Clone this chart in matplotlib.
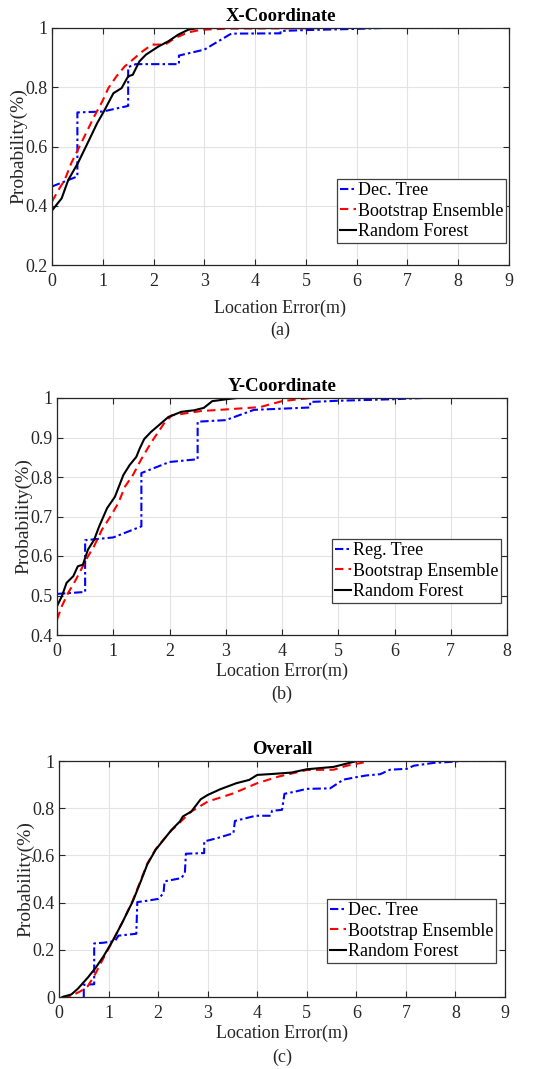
import matplotlib
matplotlib.use("Agg")
import matplotlib.pyplot as plt

plt.rcParams['font.family'] = ['Liberation Serif', 'DejaVu Serif']
plt.rcParams['mathtext.fontset'] = 'stix'

# ---------------- Panel (a): X-Coordinate ----------------
a_tree_x = [0, 0.5, 0.5, 1.0, 1.5, 1.5, 1.65, 2.5, 2.5, 3.0, 3.53, 4.5, 4.5, 5.0, 6.0, 6.5, 8.5]
a_tree_y = [0.465, 0.499, 0.715, 0.718, 0.737, 0.868, 0.878, 0.878, 0.907, 0.927, 0.981, 0.982, 0.99, 0.993, 0.997, 1.0, 1.0]
a_boot_x = [0, 0.13, 0.25, 0.38, 0.51, 0.67, 0.83, 0.99, 1.11, 1.27, 1.43, 1.59, 1.78, 1.97, 2.23, 2.42, 2.68, 2.93, 3.5, 5.6]
a_boot_y = [0.414, 0.454, 0.487, 0.544, 0.589, 0.645, 0.701, 0.752, 0.797, 0.837, 0.870, 0.893, 0.921, 0.944, 0.944, 0.966, 0.985, 0.994, 0.998, 1.0]
a_rf_x = [0, 0.19, 0.32, 0.51, 0.70, 0.89, 1.02, 1.21, 1.37, 1.50, 1.59, 1.72, 1.85, 2.10, 2.29, 2.48, 2.68, 2.87, 5.1]
a_rf_y = [0.384, 0.425, 0.487, 0.544, 0.611, 0.679, 0.718, 0.780, 0.797, 0.837, 0.842, 0.887, 0.910, 0.938, 0.955, 0.977, 0.994, 1.0, 1.0]

# ---------------- Panel (b): Y-Coordinate ----------------
b_tree_x = [0, 0.5, 0.5, 1.0, 1.5, 1.5, 2.0, 2.5, 2.5, 3.0, 3.5, 4.5, 4.5, 5.0, 6.0, 6.5]
b_tree_y = [0.504, 0.509, 0.640, 0.647, 0.675, 0.810, 0.838, 0.845, 0.940, 0.944, 0.970, 0.976, 0.990, 0.993, 0.997, 1.0]
b_boot_x = [0, 0.086, 0.2, 0.32, 0.43, 0.55, 0.66, 0.80, 0.95, 1.09, 1.21, 1.35, 1.49, 1.61, 1.72, 1.90, 2.04, 2.33, 2.56, 3.0, 3.61, 4.0, 4.5]
b_boot_y = [0.439, 0.473, 0.507, 0.536, 0.566, 0.599, 0.625, 0.667, 0.700, 0.734, 0.776, 0.805, 0.843, 0.872, 0.897, 0.935, 0.956, 0.962, 0.967, 0.971, 0.977, 0.992, 1.0]
b_rf_x = [0, 0.086, 0.17, 0.29, 0.37, 0.46, 0.55, 0.66, 0.75, 0.89, 1.03, 1.18, 1.29, 1.41, 1.47, 1.55, 1.67, 1.81, 1.98, 2.21, 2.44, 2.61, 2.76, 3.02, 3.2]
b_rf_y = [0.473, 0.498, 0.532, 0.549, 0.574, 0.578, 0.616, 0.641, 0.675, 0.721, 0.750, 0.805, 0.830, 0.851, 0.872, 0.896, 0.914, 0.931, 0.952, 0.965, 0.969, 0.975, 0.992, 0.997, 1.0]

# ---------------- Panel (c): Overall ----------------
c_tree_x = [0.5, 0.5, 0.71, 0.71, 0.90, 1.13, 1.2, 1.56, 1.58, 1.78, 2.01, 2.11, 2.13, 2.47, 2.54, 2.56, 2.93, 2.93, 3.19, 3.52, 3.55, 3.78, 3.97, 4.27, 4.3, 4.5, 4.55, 4.76, 5.0, 5.47, 5.74, 6.01, 6.21, 6.48, 6.68, 7.02, 7.16, 7.56, 7.96, 8.1, 9.0]
c_tree_y = [0.0, 0.052, 0.054, 0.227, 0.230, 0.237, 0.260, 0.268, 0.402, 0.408, 0.416, 0.441, 0.490, 0.504, 0.525, 0.607, 0.610, 0.659, 0.673, 0.694, 0.746, 0.758, 0.768, 0.768, 0.789, 0.793, 0.861, 0.870, 0.882, 0.884, 0.921, 0.932, 0.939, 0.944, 0.963, 0.967, 0.980, 0.992, 0.997, 1.0, 1.0]
c_boot_x = [0.07, 0.25, 0.44, 0.58, 0.71, 0.90, 1.10, 1.29, 1.49, 1.65, 1.78, 1.95, 2.11, 2.27, 2.44, 2.67, 3.0, 3.52, 4.0, 4.43, 5.0, 5.54, 5.81, 6.15]
c_boot_y = [0.0, 0.005, 0.025, 0.046, 0.089, 0.166, 0.244, 0.321, 0.410, 0.495, 0.565, 0.626, 0.667, 0.706, 0.740, 0.786, 0.828, 0.863, 0.906, 0.934, 0.962, 0.963, 0.980, 0.994]
c_rf_x = [0.07, 0.25, 0.38, 0.58, 0.74, 0.90, 1.10, 1.29, 1.49, 1.65, 1.78, 1.95, 2.11, 2.27, 2.44, 2.50, 2.67, 2.86, 3.0, 3.25, 3.58, 3.84, 4.0, 4.3, 4.69, 5.0, 5.54, 6.01]
c_rf_y = [0.0, 0.011, 0.035, 0.082, 0.124, 0.173, 0.244, 0.321, 0.406, 0.490, 0.561, 0.624, 0.666, 0.708, 0.744, 0.765, 0.786, 0.838, 0.856, 0.880, 0.906, 0.920, 0.941, 0.945, 0.951, 0.965, 0.975, 1.0]

W, H = 538, 1069
fig = plt.figure(figsize=(W / 100, H / 100), dpi=100)

def px_axes(l, r, t, b):
    return fig.add_axes([l / W, 1 - b / H, (r - l) / W, (b - t) / H])

panels = [
    dict(box=(52, 509, 28, 265), title='X-Coordinate', xlim=(0, 9), ylim=(0.2, 1),
         yticks=[0.2, 0.4, 0.6, 0.8, 1.0], ylabels=['0.2', '0.4', '0.6', '0.8', '1'],
         data=(a_tree_x, a_tree_y, a_boot_x, a_boot_y, a_rf_x, a_rf_y),
         names=['Dec. Tree', 'Bootstrap Ensemble', 'Random Forest'],
         leg=(0.993, 0.093), cap='(a)', capy=330, labelpad=7),
    dict(box=(57, 507, 398, 635), title='Y-Coordinate', xlim=(0, 8), ylim=(0.4, 1),
         yticks=[0.4, 0.5, 0.6, 0.7, 0.8, 0.9, 1.0], ylabels=['0.4', '0.5', '0.6', '0.7', '0.8', '0.9', '1'],
         data=(b_tree_x, b_tree_y, b_boot_x, b_boot_y, b_rf_x, b_rf_y),
         names=['Reg. Tree', 'Bootstrap Ensemble', 'Random Forest'],
         leg=(0.987, 0.135), cap='(b)', capy=694, labelpad=2),
    dict(box=(59, 505, 761, 997), title='Overall', xlim=(0, 9), ylim=(0, 1),
         yticks=[0, 0.2, 0.4, 0.6, 0.8, 1.0], ylabels=['0', '0.2', '0.4', '0.6', '0.8', '1'],
         data=(c_tree_x, c_tree_y, c_boot_x, c_boot_y, c_rf_x, c_rf_y),
         names=['Dec. Tree', 'Bootstrap Ensemble', 'Random Forest'],
         leg=(0.98, 0.144), cap='(c)', capy=1057, labelpad=2),
]

FS = 13
for p in panels:
    ax = px_axes(*p['box'])
    tx, ty, bx, by, rx, ry = p['data']
    ax.plot(tx, ty, color='#0000ff', ls=(0, (4, 1.5, 1.2, 1.5)), lw=1.5, label=p['names'][0])
    ax.plot(bx, by, color='#ff0000', ls=(0, (4, 2.5)), lw=1.5, label=p['names'][1])
    ax.plot(rx, ry, color='black', ls='-', lw=1.5, label=p['names'][2])
    ax.set_xlim(*p['xlim'])
    ax.set_ylim(*p['ylim'])
    ax.set_xticks(range(p['xlim'][0], p['xlim'][1] + 1))
    ax.set_yticks(p['yticks'])
    ax.set_yticklabels(p['ylabels'])
    ax.grid(True, color='#e3e3e3', lw=0.8)
    ax.set_axisbelow(True)
    ax.tick_params(direction='in', top=True, right=True, labelsize=FS, colors='#262626',
                   length=4, width=0.8)
    ax.tick_params(axis='x', pad=6)
    ax.tick_params(axis='y', pad=3)
    for s in ax.spines.values():
        s.set_color('#262626')
        s.set_linewidth(0.9)
    ax.set_title(p['title'], fontsize=13.5, fontweight='bold', pad=5)
    ax.set_xlabel('Location Error(m)', fontsize=FS, color='#262626', labelpad=p['labelpad'])
    ax.set_ylabel('Probability(%)', fontsize=14, color='#262626', labelpad=-1)
    leg = ax.legend(loc='lower right', bbox_to_anchor=p['leg'], borderaxespad=0,
                    fancybox=False, framealpha=1, edgecolor='#404040', fontsize=FS,
                    handlelength=0.9, handletextpad=0.1, labelspacing=0.2, borderpad=0.15)
    leg.get_frame().set_linewidth(0.9)
    fig.text((p['box'][0] + p['box'][1]) / 2 / W, 1 - p['capy'] / H, p['cap'],
             ha='center', va='center', fontsize=FS, color='#262626')

fig.savefig('out.png', dpi=100)
